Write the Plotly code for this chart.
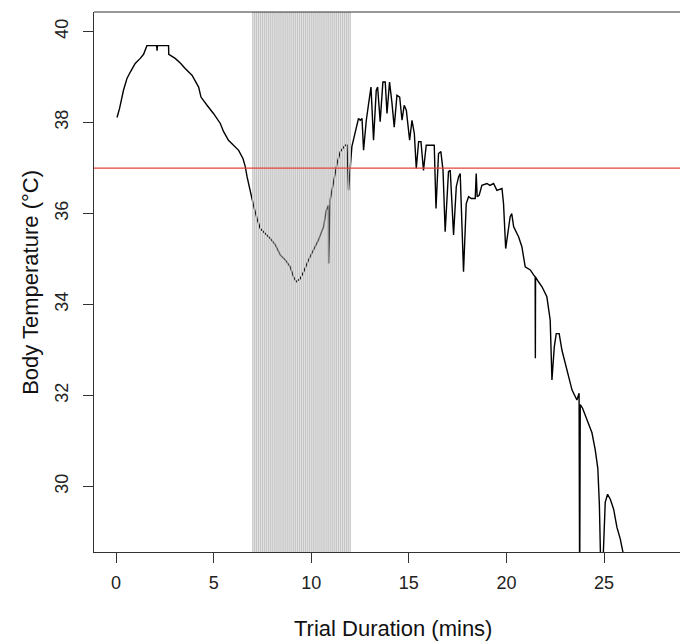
import numpy as np
import plotly.graph_objects as go

# ---- data ----
time_min = [0.05, 0.18, 0.38, 0.56, 0.73, 0.98, 1.24, 1.41, 1.58, 2.08, 2.10, 2.12, 2.69, 2.70,
            3.03, 3.29, 3.54, 3.89, 4.23, 4.35, 4.66, 4.99, 5.34, 5.51, 5.76, 6.02, 6.28, 6.50,
            6.62, 6.71, 6.87, 7.04, 7.22, 7.39, 7.64, 7.90, 8.16, 8.41, 8.67, 8.92, 9.09, 9.23,
            9.44, 9.61, 9.86, 10.12, 10.37, 10.63, 10.77, 10.88, 10.89, 10.97, 11.14, 11.32,
            11.49, 11.74, 11.83, 11.91, 12.08, 12.25, 12.34, 12.42, 12.51, 12.60, 12.68, 12.82,
            12.94, 13.06, 13.19, 13.33, 13.40, 13.53, 13.67, 13.79, 13.88, 14.01, 14.13, 14.25,
            14.39, 14.53, 14.65, 14.76, 14.87, 15.04, 15.16, 15.28, 15.38, 15.50, 15.62, 15.75,
            15.89, 16.30, 16.39, 16.52, 16.64, 16.75, 16.86, 17.03, 17.12, 17.29, 17.43, 17.55,
            17.63, 17.80, 17.94, 18.06, 18.20, 18.40, 18.45, 18.50, 18.60, 18.74, 19.00, 19.15,
            19.34, 19.51, 19.77, 19.85, 19.96, 20.06, 20.19, 20.27, 20.37, 20.62, 20.79, 20.96,
            21.22, 21.39, 21.47, 21.48, 21.49, 21.64, 21.82, 22.07, 22.24, 22.33, 22.45, 22.55,
            22.70, 22.84, 23.01, 23.18, 23.36, 23.61, 23.72, 23.75, 23.78, 23.90, 24.04, 24.20,
            24.38, 24.55, 24.68, 24.76, 24.82, 24.95, 25.06, 25.18, 25.32, 25.49, 25.66, 25.83,
            25.97]
body_temp = [38.11, 38.31, 38.71, 38.97, 39.11, 39.30, 39.41, 39.50, 39.69, 39.69, 39.58, 39.69, 39.69, 39.50,
             39.41, 39.31, 39.19, 39.04, 38.78, 38.56, 38.38, 38.20, 37.98, 37.80, 37.61, 37.50, 37.39, 37.21,
             37.03, 36.81, 36.48, 36.18, 35.89, 35.67, 35.56, 35.45, 35.31, 35.09, 34.98, 34.83, 34.61, 34.50,
             34.57, 34.72, 34.98, 35.20, 35.42, 35.71, 36.07, 36.18, 34.90, 36.30, 36.73, 37.10,
             37.36, 37.50, 37.50, 36.51, 37.47, 37.76, 37.98, 38.09, 38.05, 38.09, 37.39, 38.05,
             38.42, 38.78, 37.61, 38.71, 38.78, 38.02, 38.89, 38.89, 38.20, 38.89, 38.45, 37.90,
             38.60, 38.56, 38.05, 38.38, 38.27, 37.61, 38.05, 37.76, 36.99, 37.58, 37.58, 36.95,
             37.50, 37.50, 36.11, 37.32, 37.36, 36.95, 35.60, 36.92, 36.95, 35.53, 36.59, 36.81,
             36.88, 34.72, 36.22, 36.37, 36.33, 36.33, 36.88, 36.37, 36.40, 36.62, 36.66, 36.62,
             36.66, 36.51, 36.55, 36.22, 35.23, 35.56, 35.93, 36.00, 35.71, 35.49, 35.27, 34.83,
             34.76, 34.65, 34.61, 32.82, 34.60, 34.50, 34.39, 34.17, 33.66, 32.34, 33.07, 33.36,
             33.36, 33.00, 32.71, 32.41, 32.12, 31.90, 32.05, 27.50, 31.80, 31.72, 31.55, 31.38,
             31.18, 30.80, 30.40, 29.60, 28.40, 28.40, 29.65, 29.83, 29.72, 29.50, 29.10, 28.85,
             28.55]

x_ticks = [0, 5, 10, 15, 20, 25]
y_ticks = [30, 32, 34, 36, 38, 40]
reference_temp = 37
shade_start, shade_end, shade_step = 7.0, 12.0, 0.1

x_title = "Trial Duration (mins)"
y_title = "Body Temperature (°C)"

FONT = "Liberation Sans, Arial, sans-serif"

fig = go.Figure()
fig.add_trace(go.Scatter(x=time_min, y=body_temp, mode="lines",
                         line=dict(color="black", width=1.4), showlegend=False,
                         hoverinfo="skip"))

shapes = [dict(type="rect", xref="x", yref="paper", x0=shade_start, x1=shade_end, y0=0, y1=1,
               fillcolor="#e4e4e4", line=dict(width=0), layer="below")]
n_shade = int(round((shade_end - shade_start) / shade_step)) + 1
for i in range(n_shade):
    xv = shade_start + i * shade_step
    shapes.append(dict(type="line", xref="x", yref="paper", x0=xv, x1=xv, y0=0, y1=1,
                       line=dict(color="#c4c4c4", width=1), layer="above"))
shapes.append(dict(type="line", xref="paper", yref="y", x0=0, x1=1,
                   y0=reference_temp, y1=reference_temp,
                   line=dict(color="#e8403c", width=1.3), layer="above"))
# top frame line
shapes.append(dict(type="line", xref="paper", yref="paper", x0=0, x1=1, y0=1, y1=1,
                   line=dict(color="#333333", width=1), layer="above"))

# the page adds an 8px body margin, so the figure is 8px smaller than the window
fig.update_layout(
    width=680, height=636,
    margin=dict(l=86, r=0, t=4, b=92),
    paper_bgcolor="white", plot_bgcolor="white",
    font=dict(family=FONT, size=18, color="#222222"),
    shapes=shapes,
    annotations=[
        dict(text=x_title, xref="paper", yref="paper", x=0.503, y=-0.141,
             xanchor="center", yanchor="middle", showarrow=False,
             font=dict(family=FONT, size=22, color="#111111")),
        dict(text=y_title, xref="paper", yref="paper", x=-0.108, y=0.5,
             xanchor="center", yanchor="middle", showarrow=False, textangle=-90,
             font=dict(family=FONT, size=22, color="#111111")),
    ],
)
fig.update_xaxes(range=[-1.13, 29.30], tickvals=x_ticks, ticktext=[str(v) for v in x_ticks],
                 ticks="outside", ticklen=10, tickcolor="#333333", tickwidth=1,
                 showline=True, linecolor="#333333", linewidth=1, showgrid=False,
                 zeroline=False, ticklabelstandoff=4)
fig.update_yaxes(range=[28.56, 40.43], tickvals=y_ticks, ticktext=[str(v) for v in y_ticks],
                 ticks="outside", ticklen=10, tickcolor="#333333", tickwidth=1,
                 showline=True, linecolor="#333333", linewidth=1, showgrid=False,
                 zeroline=False, tickangle=-90, ticklabelstandoff=8)

fig.write_html("out.html")
